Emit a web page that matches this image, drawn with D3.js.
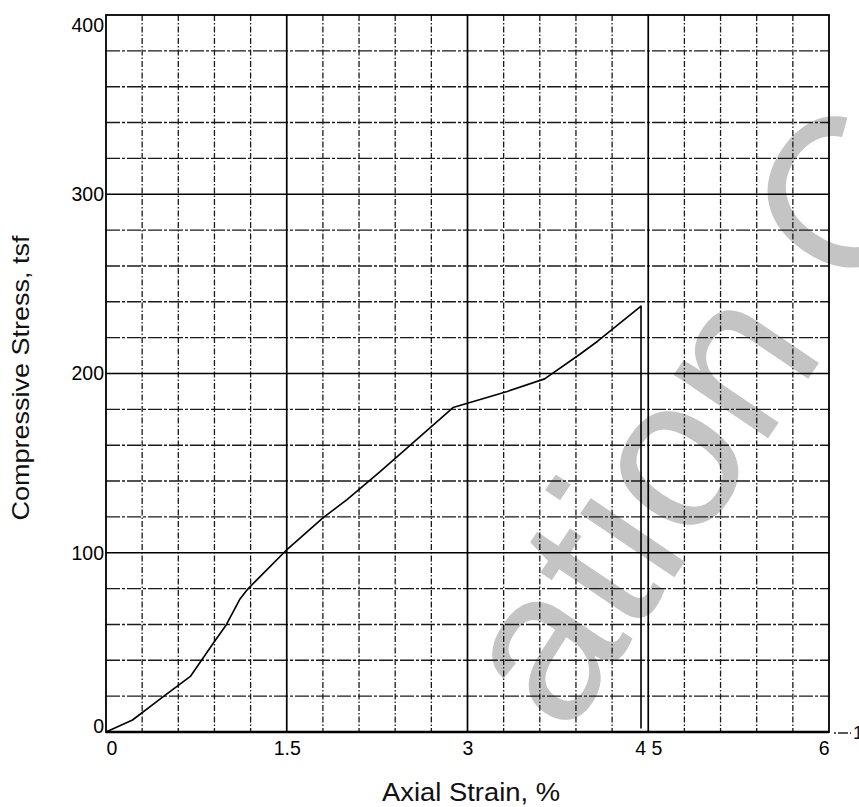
<!DOCTYPE html>
<html>
<head>
<meta charset="utf-8">
<script src="https://cdn.jsdelivr.net/npm/d3@7"></script>
<style>
  body { margin: 0; background: #fff; }
  svg { display: block; font-family: "Liberation Sans", Arial, sans-serif; }
</style>
</head>
<body>
<div id="chart"></div>
<script>
// stress-strain readings taken off the scanned plot
const strain = [0, 0.22, 0.475, 0.70, 0.89, 1.0, 1.11, 1.18, 1.49, 1.80, 2.0, 2.27, 2.88, 3.33, 3.64, 3.93, 4.08, 4.44, 4.44];
const stress = [0, 6.7, 19.7, 31, 49.5, 60, 74, 80, 101, 119.5, 129.6, 145, 181, 190, 197, 210.6, 218, 237.6, 2];

const xTicks = [0, 1.5, 3, 4.5, 6];
const xTickLabels = ["0", "1.5", "3", "4 5", "6"];
const yTicks = [0, 100, 200, 300, 400];

const width = 859, height = 807;
const plot = { left: 106, right: 829, top: 15, bottom: 732 };

const svg = d3.select("#chart")
    .append("svg")
    .attr("width", width)
    .attr("height", height);

const x = d3.scaleLinear().domain([0, 6]).range([plot.left, plot.right]);
const y = d3.scaleLinear().domain([0, 400]).range([plot.bottom, plot.top]);

// watermark, sits under the grid
svg.append("text")
    .attr("transform", "translate(566,738) rotate(-56)")
    .style("font-size", "215px")
    .attr("fill", "#c4c4c4")
    .text("ation C");

// minor grid
const minorX = d3.range(0, 6.0001, 0.3).filter(v => Math.abs(v / 1.5 - Math.round(v / 1.5)) > 1e-6);
const minorY = d3.range(0, 400.001, 20).filter(v => v % 100 !== 0);

svg.append("g")
    .selectAll("line")
    .data(minorX)
    .enter().append("line")
    .attr("x1", d => x(d)).attr("x2", d => x(d))
    .attr("y1", plot.top).attr("y2", plot.bottom)
    .attr("stroke", "#1a1a1a")
    .attr("stroke-width", 1.3)
    .attr("stroke-dasharray", "6,2,1.5,2");

svg.append("g")
    .selectAll("line")
    .data(minorY)
    .enter().append("line")
    .attr("x1", plot.left).attr("x2", plot.right)
    .attr("y1", d => y(d)).attr("y2", d => y(d))
    .attr("stroke", "#1a1a1a")
    .attr("stroke-width", 1.4)
    .attr("stroke-dasharray", "14,2,3,2");

// major grid
svg.append("g")
    .selectAll("line")
    .data(xTicks.slice(1, -1))
    .enter().append("line")
    .attr("x1", d => x(d)).attr("x2", d => x(d))
    .attr("y1", plot.top).attr("y2", plot.bottom)
    .attr("stroke", "#000")
    .attr("stroke-width", 1.7);

svg.append("g")
    .selectAll("line")
    .data(yTicks.slice(1, -1))
    .enter().append("line")
    .attr("x1", plot.left).attr("x2", plot.right)
    .attr("y1", d => y(d)).attr("y2", d => y(d))
    .attr("stroke", "#000")
    .attr("stroke-width", 1.7);

// frame
svg.append("rect")
    .attr("x", plot.left).attr("y", plot.top)
    .attr("width", plot.right - plot.left)
    .attr("height", plot.bottom - plot.top)
    .attr("fill", "none")
    .attr("stroke", "#000")
    .attr("stroke-width", 1.8);

svg.append("line")
    .attr("x1", plot.left).attr("x2", plot.right)
    .attr("y1", plot.bottom).attr("y2", plot.bottom)
    .attr("stroke", "#000")
    .attr("stroke-width", 2.6);

// axes (labels only)
const xAxis = svg.append("g")
    .attr("transform", `translate(0,${plot.bottom})`)
    .call(d3.axisBottom(x).tickValues(xTicks).tickSize(0).tickPadding(9)
        .tickFormat((d, i) => xTickLabels[i]));
xAxis.select(".domain").remove();
xAxis.selectAll("text")
    .style("font-size", "19.5px")
    .style("font-family", "Liberation Sans, Arial, sans-serif")
    .attr("fill", "#000")
    .attr("text-anchor", (d, i) => i === 0 ? "start" : i === xTicks.length - 1 ? "end" : "middle");

const yAxis = svg.append("g")
    .attr("transform", `translate(${plot.left - 2},0)`)
    .call(d3.axisLeft(y).tickValues(yTicks).tickSize(0).tickPadding(0));
yAxis.select(".domain").remove();
yAxis.selectAll("text")
    .style("font-size", "19.5px")
    .style("font-family", "Liberation Sans, Arial, sans-serif")
    .attr("fill", "#000")
    .attr("dy", d => d === 400 ? "0.85em" : d === 0 ? "0" : "0.32em");

// curve
const pts = strain.map((s, i) => [s, stress[i]]);
svg.append("path")
    .datum(pts)
    .attr("fill", "none")
    .attr("stroke", "#000")
    .attr("stroke-width", 1.6)
    .attr("stroke-linejoin", "round")
    .attr("d", d3.line().x(d => x(d[0])).y(d => y(d[1])));

// axis titles
svg.append("text")
    .attr("x", 471).attr("y", 801)
    .attr("text-anchor", "middle")
    .style("font-size", "25px")
    .attr("fill", "#111")
    .attr("textLength", 178)
    .attr("lengthAdjust", "spacingAndGlyphs")
    .text("Axial Strain, %");

svg.append("text")
    .attr("transform", "translate(29,378) rotate(-90)")
    .attr("text-anchor", "middle")
    .style("font-size", "24px")
    .attr("fill", "#111")
    .attr("textLength", 285)
    .attr("lengthAdjust", "spacingAndGlyphs")
    .text("Compressive Stress, tsf");

// stray mark right of the axis end
svg.append("line")
    .attr("x1", plot.right + 5).attr("x2", plot.right + 22)
    .attr("y1", plot.bottom + 1).attr("y2", plot.bottom + 1)
    .attr("stroke", "#222")
    .attr("stroke-width", 1.3)
    .attr("stroke-dasharray", "2,2,8,0");
svg.append("text")
    .attr("x", plot.right + 24).attr("y", plot.bottom + 7)
    .style("font-size", "18px")
    .attr("fill", "#111")
    .text("1");
</script>
</body>
</html>
